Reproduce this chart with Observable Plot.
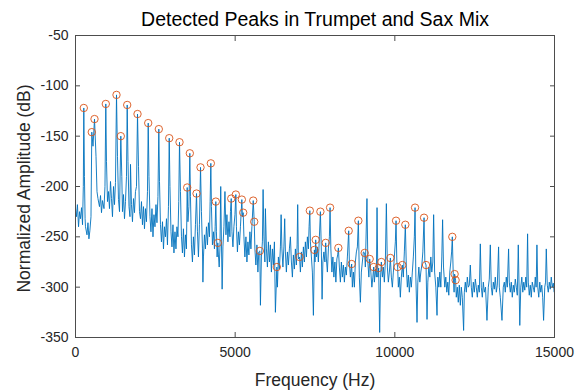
<!DOCTYPE html>
<html><head><meta charset="utf-8">
<script src="https://cdn.jsdelivr.net/npm/d3@7"></script>
<script src="https://cdn.jsdelivr.net/npm/@observablehq/plot@0.6"></script>
<style>
html,body{margin:0;padding:0;background:#fff;}
#chart{width:585px;height:390px;}
</style></head><body><div id="chart"></div>
<script>
const titleText = "Detected Peaks in Trumpet and Sax Mix";
const xLabel = "Frequency (Hz)";
const yLabel = "Normalized Amplitude (dB)";
const xTicks = [0, 5000, 10000, 15000];
const yTicks = [-50, -100, -150, -200, -250, -300, -350];

// spectrum: [frequency (Hz), normalized amplitude (dB)]
const spectrum = [
[0,-222],[30,-230],[60,-218],[95,-240],[125,-225],[155,-232],[190,-221],[220,-238],[245,-200],[260,-122],[280,-190],[300,-232],
[313,-240],[360,-248],[390,-236],[420,-252],[450,-244],[485,-230],[510,-146],[548,-160],[595,-133],[642,-170],[673,-205],
[704,-212],[751,-220],[783,-209],[814,-226],[845,-214],[892,-222],[923,-200],[949,-118],[970,-175],[1002,-215],
[1033,-205],[1064,-222],[1096,-195],[1127,-212],[1158,-230],[1190,-200],[1221,-218],[1252,-196],[1284,-109],[1315,-170],
[1346,-213],[1378,-225],[1419,-150],[1450,-190],[1471,-225],[1503,-208],[1534,-232],[1565,-215],[1597,-190],[1619,-119],
[1644,-175],[1675,-220],[1706,-230],[1722,-178],[1753,-218],[1784,-235],[1816,-212],[1847,-226],[1878,-205],[1910,-200],
[1942,-128],[1973,-180],[2004,-225],[2035,-232],[2066,-215],[2097,-238],[2129,-220],[2160,-242],[2191,-222],[2222,-235],
[2254,-205],[2277,-137],[2301,-190],[2332,-230],[2363,-245],[2395,-222],[2426,-250],[2457,-228],[2489,-240],[2520,-218],
[2551,-236],[2582,-210],[2609,-143],[2630,-195],[2661,-238],[2692,-255],[2724,-235],[2755,-262],[2786,-240],[2817,-250],
[2849,-232],[2880,-258],[2911,-220],[2935,-152],[2958,-200],[2990,-245],[3021,-260],[3052,-238],[3083,-266],[3115,-245],
[3146,-262],[3177,-240],[3208,-250],[3233,-215],[3257,-156],[3287,-205],[3318,-250],[3349,-266],[3380,-242],[3412,-270],
[3443,-248],[3474,-262],[3498,-201],[3521,-235],[3552,-220],[3580,-167],[3600,-210],[3631,-258],[3662,-275],[3693,-250],
[3725,-268],[3756,-238],[3790,-207],[3819,-245],[3850,-270],[3881,-238],[3915,-181],[3944,-225],[3976,-262],[3990,-295],
[4007,-270],[4038,-248],[4069,-262],[4101,-240],[4132,-258],[4163,-236],[4195,-250],[4216,-215],[4238,-177],[4257,-220],
[4288,-258],[4320,-245],[4351,-262],[4373,-240],[4394,-215],[4413,-245],[4435,-270],[4457,-256],[4476,-268],[4500,-280],
[4523,-262],[4548,-200],[4570,-255],[4592,-302],[4617,-260],[4648,-240],[4680,-205],[4711,-248],[4742,-228],[4773,-255],
[4805,-235],[4836,-250],[4852,-225],[4877,-212],[4899,-245],[4930,-260],[4961,-240],[4993,-228],[5021,-208],[5040,-240],
[5071,-265],[5102,-245],[5134,-258],[5165,-240],[5209,-213],[5227,-230],[5252,-226],[5274,-250],[5305,-270],[5337,-250],
[5368,-275],[5399,-255],[5430,-268],[5462,-245],[5493,-262],[5524,-240],[5566,-214],[5597,-235],[5618,-262],[5649,-278],
[5681,-258],[5712,-285],[5740,-265],[5772,-264],[5791,-318],[5822,-270],[5853,-255],[5875,-203],[5900,-250],[5931,-275],
[5947,-222],[5979,-262],[6010,-280],[6041,-255],[6073,-275],[6104,-258],[6135,-285],[6167,-262],[6198,-278],[6229,-255],
[6260,-325],[6305,-280],[6323,-300],[6354,-270],[6385,-282],[6417,-260],[6439,-228],[6464,-262],[6495,-280],[6526,-260],
[6551,-232],[6573,-265],[6604,-285],[6636,-265],[6667,-278],[6698,-262],[6730,-250],[6761,-275],[6792,-290],[6823,-268],
[6855,-282],[6886,-262],[6917,-278],[6940,-258],[6958,-218],[6980,-272],[7016,-270],[7043,-285],[7074,-265],[7105,-280],
[7137,-260],[7168,-275],[7199,-255],[7231,-270],[7262,-250],[7293,-262],[7315,-240],[7338,-224],[7356,-255],[7387,-270],
[7418,-285],[7450,-328],[7481,-263],[7500,-275],[7522,-253],[7544,-270],[7575,-260],[7606,-275],[7637,-250],[7669,-225],
[7700,-265],[7722,-312],[7747,-275],[7778,-265],[7810,-275],[7835,-256],[7857,-272],[7888,-285],[7919,-262],[7951,-250],
[7972,-221],[7997,-262],[8029,-285],[8060,-270],[8091,-290],[8123,-275],[8154,-295],[8185,-272],[8210,-268],[8232,-261],
[8263,-280],[8295,-295],[8326,-275],[8357,-290],[8389,-278],[8420,-295],[8451,-280],[8482,-288],[8514,-270],[8555,-244],
[8576,-275],[8608,-290],[8648,-277],[8670,-300],[8702,-285],[8733,-300],[8764,-275],[8796,-265],[8827,-260],[8858,-234],
[8889,-290],[8921,-315],[8952,-285],[8983,-275],[9014,-265],[9055,-266],[9077,-280],[9127,-212],[9155,-275],[9187,-290],
[9212,-272],[9249,-285],[9281,-300],[9312,-290],[9337,-280],[9359,-295],[9390,-282],[9421,-290],[9443,-221],[9468,-290],
[9493,-281],[9525,-345],[9553,-290],[9578,-275],[9610,-290],[9641,-280],[9672,-295],[9703,-275],[9735,-217],[9766,-280],
[9797,-295],[9829,-285],[9860,-271],[9891,-290],[9923,-300],[9954,-285],[9985,-270],[10016,-255],[10038,-234],[10063,-275],
[10088,-280],[10110,-300],[10141,-290],[10173,-310],[10204,-290],[10235,-278],[10266,-290],[10298,-265],[10329,-238],[10360,-280],
[10392,-300],[10423,-288],[10454,-305],[10486,-290],[10517,-300],[10548,-285],[10580,-270],[10611,-250],[10633,-221],[10658,-290],
[10695,-335],[10720,-295],[10752,-280],[10783,-295],[10814,-285],[10846,-278],[10877,-265],[10915,-231],[10940,-275],[10977,-278],
[11008,-332],[11033,-295],[11065,-280],[11096,-290],[11127,-270],[11158,-285],[11190,-275],[11215,-228],[11246,-285],[11284,-300],
[11321,-328],[11346,-290],[11378,-300],[11409,-285],[11440,-300],[11471,-270],[11496,-233],[11524,-280],[11565,-300],[11596,-290],
[11628,-305],[11659,-295],[11690,-308],[11721,-285],[11753,-275],[11778,-265],[11800,-250],[11831,-290],[11856,-305],[11872,-287],
[11903,-293],[11925,-310],[11956,-300],[11987,-315],[12019,-298],[12051,-318],[12082,-300],[12113,-310],[12154,-343],[12176,-305],
[12207,-295],[12238,-305],[12270,-290],[12301,-300],[12332,-298],[12364,-278],[12395,-300],[12426,-310],[12458,-295],[12489,-305],
[12520,-292],[12551,-300],[12583,-310],[12614,-298],[12645,-305],[12677,-257],[12708,-300],[12739,-310],[12771,-295],[12802,-305],
[12840,-300],[12885,-333],[12927,-300],[12958,-292],[12990,-258],[13021,-300],[13052,-308],[13084,-295],[13115,-302],[13146,-290],
[13178,-305],[13209,-298],[13249,-260],[13272,-300],[13303,-310],[13355,-333],[13396,-300],[13428,-295],[13459,-305],[13490,-290],
[13522,-300],[13562,-262],[13584,-295],[13616,-305],[13647,-295],[13678,-310],[13710,-298],[13741,-305],[13772,-292],[13804,-300],
[13835,-308],[13866,-258],[13913,-338],[13944,-300],[13976,-290],[14007,-305],[14038,-295],[14069,-303],[14101,-290],[14130,-300],
[14157,-247],[14179,-295],[14210,-308],[14242,-298],[14273,-310],[14304,-295],[14336,-300],[14367,-305],[14398,-290],[14425,-300],
[14450,-258],[14476,-300],[14507,-310],[14539,-295],[14570,-305],[14601,-298],[14630,-310],[14658,-333],[14695,-300],[14720,-295],
[14743,-262],[14774,-298],[14805,-305],[14837,-295],[14868,-302],[14899,-290],[14930,-300],[14962,-296],[14993,-305],[15000,-300]
];

// detected peaks
const peakHz = [260,510,595,949,1284,1419,1619,1942,2277,2609,2935,3257,3498,3580,3790,3915,4238,4394,4457,4877,
  5021,5209,5252,5566,5597,5772,6305,7016,7338,7481,7522,7669,7835,7972,8232,8555,8648,8858,9055,9212,
  9337,9493,9578,9860,10038,10088,10235,10329,10633,10915,10977,11800,11872,11903];
const peakDb = [-122,-146,-133,-118,-109,-150,-119,-128,-137,-143,-152,-156,-201,-167,-207,-181,-177,-215,-256,-212,
  -208,-213,-226,-214,-235,-264,-280,-270,-224,-263,-253,-225,-256,-221,-261,-244,-277,-234,-266,-272,
  -280,-281,-275,-271,-234,-280,-278,-238,-221,-231,-278,-250,-287,-293];

const lineData = spectrum.map(([f, db]) => ({f, db}));
const peaks = peakHz.map((f, i) => ({f, db: peakDb[i]}));
const ink = "#262626";
const axisStroke = "#4d4d4d";
const font = "'Liberation Sans', Arial, Helvetica, sans-serif";

const chart = Plot.plot({
  width: 585, height: 390,
  marginLeft: 75, marginRight: 31, marginTop: 35, marginBottom: 53,
  style: {fontFamily: font, fontSize: "14px", color: ink, background: "#fff", overflow: "visible"},
  x: {domain: [0, 15000]},
  y: {domain: [-350, -50]},
  marks: [
    Plot.lineY(lineData, {x: "f", y: "db", stroke: "#0072BD", strokeWidth: 0.9}),
    Plot.dot(peaks, {x: "f", y: "db", r: 3.7, stroke: "#D95319", strokeWidth: 0.9, fill: "none"}),
    Plot.frame({stroke: axisStroke, strokeWidth: 1}),
    Plot.axisX({ticks: xTicks, tickSize: -5, tickPadding: 15, tickFormat: d => String(d), label: null, stroke: axisStroke, fill: ink}),
    Plot.axisX({anchor: "top", ticks: xTicks, tickSize: -5, tickFormat: () => "", label: null, stroke: axisStroke}),
    Plot.axisY({ticks: yTicks, tickSize: -5, tickPadding: 12, tickFormat: d => String(d), label: null, stroke: axisStroke, fill: ink}),
    Plot.axisY({anchor: "right", ticks: yTicks, tickSize: -5, tickFormat: () => "", label: null, stroke: axisStroke}),
    Plot.text([titleText], {frameAnchor: "top", textAnchor: "middle", lineAnchor: "top", dy: -23, fontSize: 19.5, fill: "#000", text: d => d}),
    Plot.text([xLabel], {frameAnchor: "bottom", textAnchor: "middle", lineAnchor: "top", dy: 36, fontSize: 17.5, fill: ink, text: d => d}),
    Plot.text([yLabel], {frameAnchor: "left", textAnchor: "middle", lineAnchor: "top", dx: -58, dy: 2, rotate: -90, fontSize: 17.5, fill: ink, text: d => d})
  ]
});
document.getElementById("chart").appendChild(chart);
</script></body></html>
